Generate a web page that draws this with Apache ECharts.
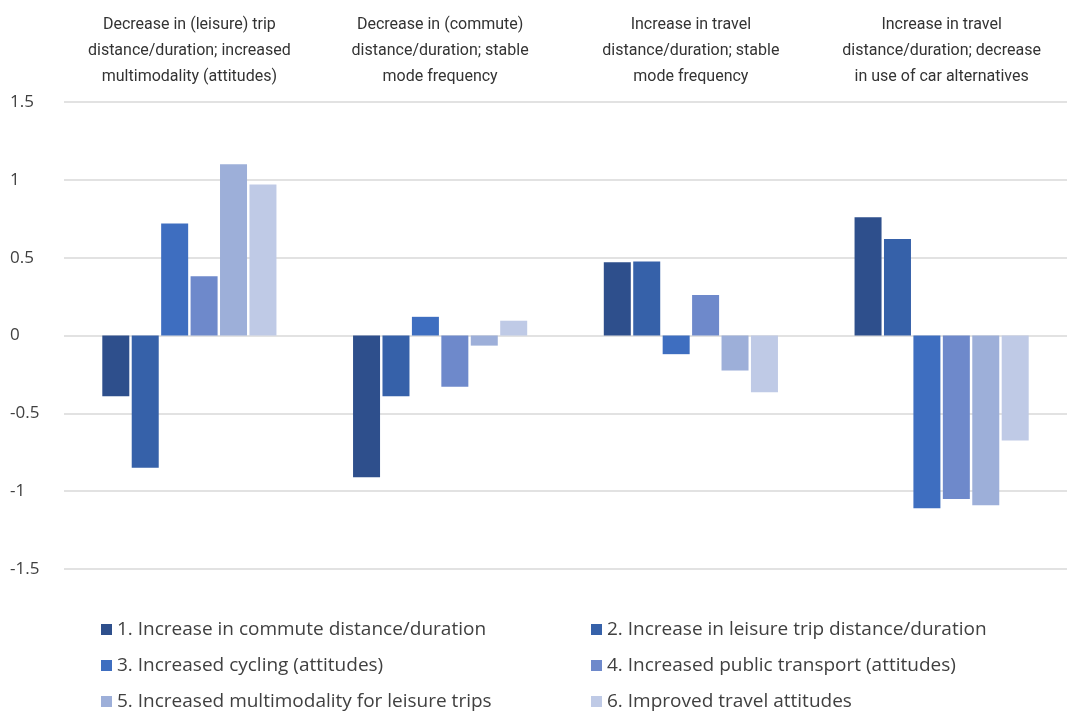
<!DOCTYPE html>
<html>
<head>
<meta charset="utf-8">
<script src="https://cdn.jsdelivr.net/npm/echarts@6/dist/echarts.min.js"></script>
<style>
  html, body { margin: 0; padding: 0; background: #fff; }
  #chart { width: 1070px; height: 720px; }
</style>
</head>
<body>
<div id="chart"></div>
<script>
// categories (profiles) and series names
var categories = [
    'Decrease in (leisure) trip\ndistance/duration; increased\nmultimodality (attitudes)',
    'Decrease in (commute)\ndistance/duration; stable\nmode frequency',
    'Increase in travel\ndistance/duration; stable\nmode frequency',
    'Increase in travel\ndistance/duration; decrease\nin use of car alternatives'
];
var seriesNames = [
    '1. Increase in commute distance/duration',
    '2. Increase in leisure trip distance/duration',
    '3. Increased cycling (attitudes)',
    '4. Increased public transport (attitudes)',
    '5. Increased multimodality for leisure trips',
    '6. Improved travel attitudes'
];
var commute   = [-0.39, -0.91,  0.47,  0.76];
var leisure   = [-0.85, -0.39,  0.475, 0.62];
var cycling   = [ 0.72,  0.12, -0.12, -1.11];
var publicTr  = [ 0.38, -0.33,  0.26, -1.05];
var multimod  = [ 1.10, -0.065, -0.225, -1.09];
var attitudes = [ 0.97,  0.095, -0.365, -0.675];
var yTicks = [-1.5, -1, -0.5, 0, 0.5, 1, 1.5];

var seriesData = [commute, leisure, cycling, publicTr, multimod, attitudes];
var colors = ['#2e4f8c', '#3661a9', '#3e6ec0', '#6e89cb', '#9dafd9', '#bfcae6'];

var myChart = echarts.init(document.getElementById('chart'));

var series = [];
for (var i = 0; i < seriesNames.length; i++) {
    series.push({
        name: seriesNames[i],
        type: 'bar',
        data: seriesData[i],
        barWidth: 27,
        barGap: '9%',
        itemStyle: { color: colors[i] }
    });
}

var legendText = { fontFamily: 'Open Sans', fontSize: 19, color: '#404040' };

var option = {
    animation: false,
    grid: { left: 64, right: 3, top: 102, bottom: 151 },
    legend: [
        {
            orient: 'vertical', left: 96, top: 615, itemGap: 17,
            itemWidth: 11, itemHeight: 11, icon: 'rect',
            data: [seriesNames[0], seriesNames[2], seriesNames[4]],
            textStyle: legendText
        },
        {
            orient: 'vertical', left: 586, top: 615, itemGap: 17,
            itemWidth: 11, itemHeight: 11, icon: 'rect',
            data: [seriesNames[1], seriesNames[3], seriesNames[5]],
            textStyle: legendText
        }
    ],
    xAxis: {
        type: 'category',
        position: 'top',
        data: categories,
        axisLine: { show: false },
        axisTick: { show: false },
        axisLabel: {
            interval: 0,
            margin: 12,
            fontFamily: 'Roboto',
            fontSize: 16,
            lineHeight: 26,
            color: '#333'
        }
    },
    yAxis: {
        type: 'value',
        min: yTicks[0],
        max: yTicks[yTicks.length - 1],
        interval: 0.5,
        axisLine: { show: false },
        axisTick: { show: false },
        splitLine: { lineStyle: { color: '#d9d9d9', width: 1.5 } },
        axisLabel: {
            align: 'left',
            margin: 54,
            fontFamily: 'Open Sans',
            fontSize: 17,
            color: '#404040'
        }
    },
    series: series
};

myChart.setOption(option);
</script>
</body>
</html>
